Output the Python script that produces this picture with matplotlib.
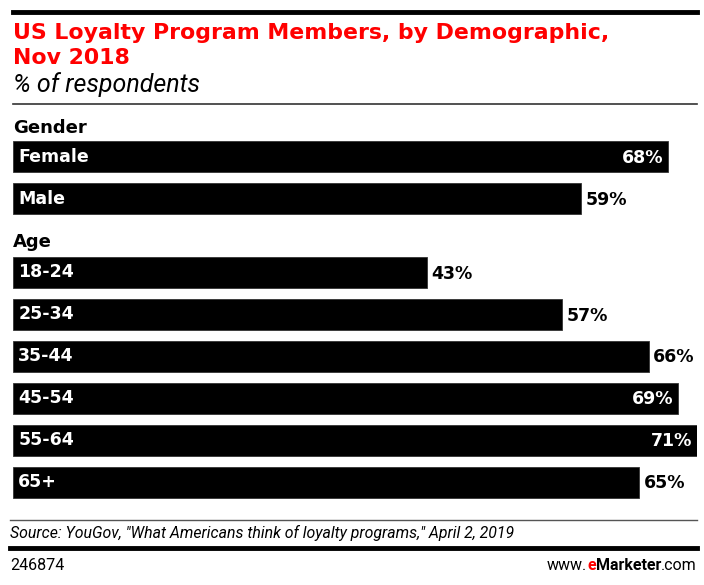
import matplotlib
matplotlib.use("Agg")
import matplotlib.pyplot as plt
from matplotlib.lines import Line2D

# data
gender_labels = ["Female", "Male"]
gender_values = [68, 59]
age_labels = ["18-24", "25-34", "35-44", "45-54", "55-64", "65+"]
age_values = [43, 57, 66, 69, 71, 65]

W, H = 704, 585
fig = plt.figure(figsize=(W / 100, H / 100), dpi=100)

def px(x, y):
    # pixel coords (top-left origin) -> figure fraction
    return x / W, 1 - y / H

# rows: gender rows, then a gap for the "Age" header, then age rows
labels = gender_labels + age_labels
values = gender_values + age_values
ypos = [0, 1] + [2.75 + i for i in range(len(age_labels))]

# axes: x 13..697 px for 0..71, y 136..503 px for -0.5..8.25
ax = fig.add_axes([13 / W, 1 - 503 / H, (697 - 13) / W, (503 - 136) / H])
ax.set_xlim(0, 71)
ax.set_ylim(8.25, -0.5)
ax.axis("off")

ax.barh(ypos, values, height=0.74, color="black", edgecolor="#333333", linewidth=0.6)

for y, lab, v in zip(ypos, labels, values):
    ax.text(0.55, y, lab, color="white", fontweight="bold", fontsize=12.5,
            va="center", ha="left", family="DejaVu Sans")
    if v >= 68:
        ax.text(v - 0.5, y + 0.03, f"{v}%", color="white", fontweight="bold",
                fontsize=12.5, va="center", ha="right", family="DejaVu Sans")
    else:
        ax.text(v + 0.45, y + 0.03, f"{v}%", color="black", fontweight="bold",
                fontsize=12.5, va="center", ha="left", family="DejaVu Sans")

# header texts
fig.text(*px(13, 128), "Gender", fontsize=13, fontweight="bold", va="center", ha="left")
fig.text(*px(13, 242), "Age", fontsize=13, fontweight="bold", va="center", ha="left")

# title block
fig.add_artist(Line2D([13 / W, 697 / W], [1 - 12 / H] * 2, color="black", lw=3.5))
fig.text(*px(13, 33), "US Loyalty Program Members, by Demographic,", color="#ff0000",
         fontsize=15.8, fontweight="bold", va="center", ha="left")
fig.text(*px(13, 58), "Nov 2018", color="#ff0000",
         fontsize=15.8, fontweight="bold", va="center", ha="left")
fig.text(*px(13, 85), "% of respondents", fontsize=18, style="italic",
         va="center", ha="left", family="Roboto")
fig.add_artist(Line2D([13 / W, 697 / W], [1 - 104 / H] * 2, color="#333333", lw=1.2))

# footer
fig.add_artist(Line2D([10 / W, 697 / W], [1 - 520 / H] * 2, color="#555555", lw=1.0))
fig.text(*px(10, 533), 'Source: YouGov, "What Americans think of loyalty programs," April 2, 2019',
         fontsize=11.4, style="italic", va="center", ha="left", family="Roboto")
fig.add_artist(Line2D([10 / W, 697 / W], [1 - 548 / H] * 2, color="black", lw=3.5))
fig.text(*px(10, 565), "246874", fontsize=11.5, va="center", ha="left", family="Roboto")

# eMarketer URL with red "e", right-aligned at x=697
parts = [("www.", "normal", "black"), ("e", "bold", "#ff0000"),
         ("Marketer", "bold", "black"), (".com", "normal", "black")]
fig.canvas.draw()
r = fig.canvas.get_renderer()
x = 0
texts = []
for s, wgt, col in parts:
    t = fig.text(x / W, 1 - 565 / H, s, fontsize=11.5, va="center", ha="left",
                 family="Roboto", fontweight=wgt, color=col)
    texts.append(t)
    x = t.get_window_extent(r).x1
shift = 697 - x
for t in texts:
    px0, py0 = t.get_position()
    t.set_position((px0 + shift / W, py0))

fig.savefig("out.png", dpi=100)
